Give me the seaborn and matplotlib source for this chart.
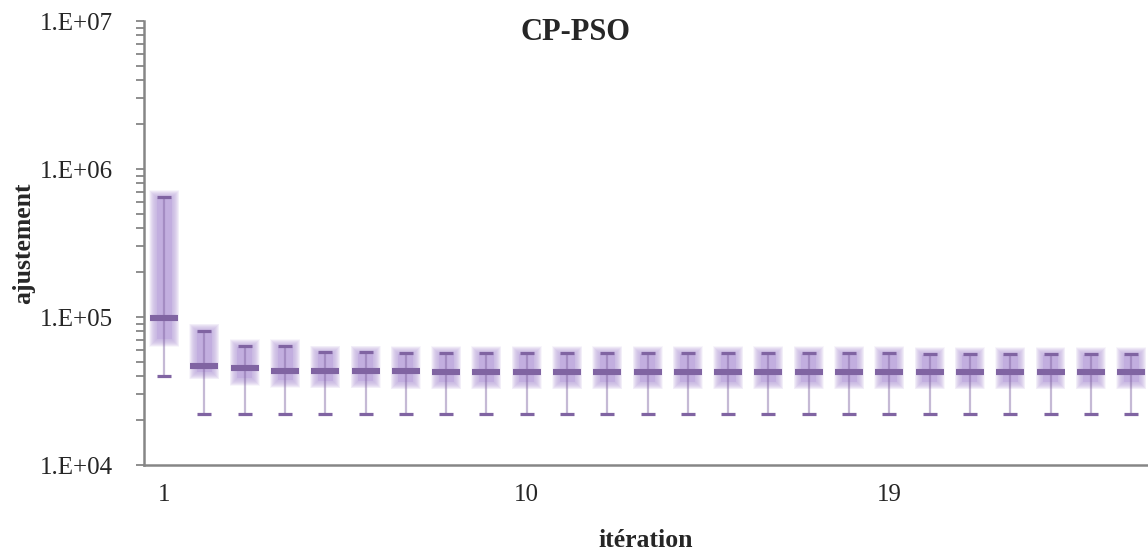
import numpy as np
import pandas as pd
import matplotlib
matplotlib.use('Agg')
import matplotlib.pyplot as plt
import matplotlib.ticker as mticker
import seaborn as sns

# values (25 iterations)
iterations = list(range(1, 26))
high = [6.44e5, 8.0e4, 6.34e4, 6.34e4, 5.77e4, 5.77e4, 5.7e4, 5.7e4, 5.7e4, 5.7e4,
        5.7e4, 5.7e4, 5.7e4, 5.7e4, 5.7e4, 5.7e4, 5.7e4, 5.7e4, 5.7e4, 5.6e4,
        5.6e4, 5.6e4, 5.6e4, 5.6e4, 5.6e4]
low = [4.0e4] + [2.2e4] * 24
median = [9.9e4, 4.69e4, 4.54e4, 4.33e4, 4.33e4, 4.33e4, 4.3e4, 4.25e4, 4.25e4, 4.25e4,
          4.25e4, 4.25e4, 4.25e4, 4.25e4, 4.25e4, 4.25e4, 4.25e4, 4.25e4, 4.25e4, 4.25e4,
          4.25e4, 4.25e4, 4.25e4, 4.25e4, 4.25e4]
q3 = [6.37e5, 8.0e4, 6.3e4, 6.3e4, 5.7e4, 5.7e4, 5.65e4, 5.65e4, 5.65e4, 5.65e4,
      5.65e4, 5.65e4, 5.65e4, 5.65e4, 5.65e4, 5.65e4, 5.65e4, 5.65e4, 5.65e4, 5.55e4,
      5.55e4, 5.55e4, 5.55e4, 5.55e4, 5.55e4]
q1 = [7.1e4, 4.25e4, 3.87e4, 3.75e4, 3.7e4, 3.7e4, 3.65e4, 3.64e4, 3.64e4, 3.64e4,
      3.64e4, 3.64e4, 3.64e4, 3.64e4, 3.64e4, 3.64e4, 3.64e4, 3.64e4, 3.64e4, 3.64e4,
      3.64e4, 3.64e4, 3.64e4, 3.64e4, 3.64e4]

df = pd.DataFrame({'it': iterations, 'high': high, 'low': low, 'median': median,
                   'q1': q1, 'q3': q3})
df['x'] = np.arange(len(df))

sns.set_style('white')
plt.rcParams['font.family'] = ['Liberation Serif', 'DejaVu Serif']

purple = '#8064A2'
lav = '#C2AEDF'
grey = '#868686'

fig = plt.figure(figsize=(11.48, 5.5), dpi=100)
ax = fig.add_axes([144 / 1148, 1 - 465 / 550, 1 - 144 / 1148, (465 - 21) / 550])
ax.set_yscale('log')

px_x = 1 / 40.3      # one pixel in category units
px_y = 1 / 148.0     # one pixel in decades
bw = 15 * px_x

# glowing boxes (soft edge built from thin translucent layers)
steps = np.linspace(7.5, 0.5, 15)
for k in steps:
    f = 10 ** (k * px_y)
    ax.bar(df['x'], df['q3'] * f - df['q1'] / f, bottom=df['q1'] / f,
           width=bw + 2 * k * px_x, color=lav, alpha=0.1, linewidth=0, zorder=1)
ax.bar(df['x'], df['q3'] - df['q1'], bottom=df['q1'], width=bw,
       color=lav, alpha=0.95, linewidth=0, zorder=2)

# whiskers
ax.vlines(df['x'], df['low'], df['high'], color=purple, alpha=0.45, lw=1.6, zorder=3)

# caps and medians
sns.scatterplot(data=df, x='x', y='high', marker='_', s=105, linewidth=2.3,
                color=purple, ax=ax, zorder=4)
sns.scatterplot(data=df, x='x', y='low', marker='_', s=105, linewidth=2.3,
                color=purple, ax=ax, zorder=4)
sns.scatterplot(data=df, x='x', y='median', marker='_', s=380, linewidth=4.4,
                color=purple, ax=ax, zorder=5)

ax.set_xlim(-0.5, 24.42)
ax.set_ylim(1e4, 1e7)

# x axis: labels every 9 categories, tick marks on boundaries
lab_pos = [0, 9, 18]
ax.xaxis.set_major_locator(mticker.FixedLocator(lab_pos))
ax.set_xticklabels([str(iterations[i]) for i in lab_pos])
ax.xaxis.set_minor_locator(mticker.FixedLocator([-0.5, 8.5, 17.5]))
ax.tick_params(axis='x', which='major', length=0, pad=14, labelsize=18)
ax.tick_params(axis='x', which='minor', length=6, width=1.3, color=grey, direction='out')

ax.yaxis.set_major_locator(mticker.LogLocator(base=10, numticks=10))
ax.yaxis.set_minor_locator(mticker.LogLocator(base=10, subs=np.arange(2, 10), numticks=10))
ax.yaxis.set_minor_formatter(mticker.NullFormatter())
ax.yaxis.set_major_formatter(mticker.FuncFormatter(lambda v, p: f"1.E+{int(round(np.log10(v))):02d}"))
ax.tick_params(axis='y', which='both', length=6, width=1.3, color=grey, direction='out',
               labelsize=18, pad=16, left=True)

for s in ['top', 'right']:
    ax.spines[s].set_visible(False)
for s in ['left', 'bottom']:
    ax.spines[s].set_color(grey)
    ax.spines[s].set_linewidth(1.8)

ax.set_xlabel('itération', fontsize=18.5, fontweight='bold', labelpad=16)
ax.set_ylabel('ajustement', fontsize=18.5, fontweight='bold', labelpad=4)
fig.text(576 / 1148, 1 - 33 / 550, 'CP-PSO', fontsize=22, fontweight='bold',
         ha='center', va='center')

fig.savefig('out.png', dpi=100)
